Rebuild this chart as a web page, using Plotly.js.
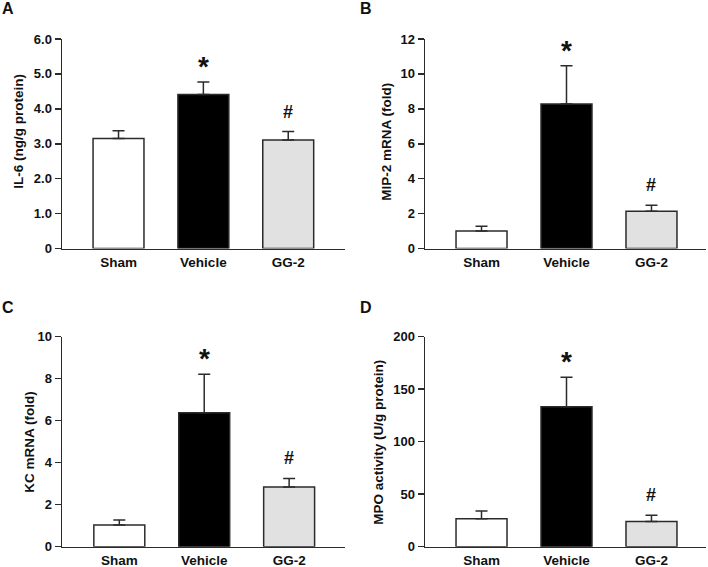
<!DOCTYPE html>
<html>
<head>
<meta charset="utf-8">
<script src="https://cdn.plot.ly/plotly-3.0.1.min.js"></script>
<style>html,body{margin:0;padding:0;background:#fff}#chart{width:708px;height:567px}</style>
</head>
<body>
<div id="chart"></div>
<script>
var groups = ["Sham", "Vehicle", "GG-2"];
var fills = ["#ffffff", "#000000", "#e1e1e1"];

var il6 = [3.15, 4.41, 3.11];
var il6Err = [0.22, 0.36, 0.24];
var mip2 = [1.0, 8.27, 2.14];
var mip2Err = [0.28, 2.2, 0.34];
var kc = [1.03, 6.38, 2.84];
var kcErr = [0.24, 1.83, 0.41];
var mpo = [26.7, 133.3, 24.1];
var mpoErr = [7.3, 28.0, 5.8];

var il6Ticks = [0, 1, 2, 3, 4, 5, 6];
var il6TickText = ["0", "1.0", "2.0", "3.0", "4.0", "5.0", "6.0"];
var mip2Ticks = [0, 2, 4, 6, 8, 10, 12];
var kcTicks = [0, 2, 4, 6, 8, 10];
var mpoTicks = [0, 50, 100, 150, 200];

var signs = ["", "*", "#"];

var FONT = "Liberation Sans, Arial, Helvetica, sans-serif";
var INK = "#2b2b2b";

var panels = [
  {vals: il6, err: il6Err, ticks: il6Ticks, text: il6TickText, ymax: 6, title: "IL-6 (ng/g protein)", letter: "A",
   xdom: [62/708, 345/708], ydom: [(567-248.5)/567, (567-39)/567], xr: [-0.666, 2.669], tx: 17.8, ty: 131, lx: 8, ly: 9},
  {vals: mip2, err: mip2Err, ticks: mip2Ticks, text: mip2Ticks.map(String), ymax: 12, title: "MIP-2 mRNA (fold)", letter: "B",
   xdom: [425/708, 705.7/708], ydom: [(567-248.5)/567, (567-39)/567], xr: [-0.665, 2.638], tx: 385.7, ty: 142, lx: 366, ly: 9},
  {vals: kc, err: kcErr, ticks: kcTicks, text: kcTicks.map(String), ymax: 10, title: "KC mRNA (fold)", letter: "C",
   xdom: [62/708, 345/708], ydom: [(567-546.7)/567, (567-336.7)/567], xr: [-0.675, 2.658], tx: 28.8, ty: 442, lx: 8, ly: 307},
  {vals: mpo, err: mpoErr, ticks: mpoTicks, text: mpoTicks.map(String), ymax: 200, title: "MPO activity (U/g protein)", letter: "D",
   xdom: [425/708, 705.7/708], ydom: [(567-546.7)/567, (567-336.7)/567], xr: [-0.665, 2.638], tx: 377.8, ty: 442, lx: 366, ly: 307}
];

var data = [];
var layout = {
  width: 708, height: 567,
  margin: {l: 0, r: 0, t: 0, b: 0},
  paper_bgcolor: "#ffffff", plot_bgcolor: "rgba(0,0,0,0)",
  showlegend: false,
  font: {family: FONT, color: "#111", size: 13, weight: "bold"},
  annotations: []
};

panels.forEach(function (p, i) {
  var n = i + 1;
  var xa = "x" + (n === 1 ? "" : n), ya = "y" + (n === 1 ? "" : n);
  data.push({
    type: "bar", x: groups, y: p.vals, xaxis: xa, yaxis: ya, width: 0.6,
    marker: {color: fills, line: {color: INK, width: 1.5}},
    error_y: {type: "data", symmetric: false, array: p.err, arrayminus: p.err.map(function () { return 0; }),
              color: INK, thickness: 1.5, width: 6},
    hoverinfo: "skip"
  });
  layout["xaxis" + (n === 1 ? "" : n)] = {
    domain: p.xdom, anchor: ya, type: "category", range: p.xr,
    showline: true, linecolor: INK, linewidth: 1.5, ticks: "outside", ticklen: 1, tickcolor: "rgba(0,0,0,0)",
    showgrid: false, zeroline: false, fixedrange: true,
    tickfont: {family: FONT, size: 13.5, color: "#111", weight: "bold"}
  };
  layout["yaxis" + (n === 1 ? "" : n)] = {
    domain: p.ydom, anchor: xa, range: [0, p.ymax],
    tickvals: p.ticks, ticktext: p.text,
    showline: true, linecolor: INK, linewidth: 1.5, ticks: "outside", ticklen: 6, tickwidth: 1.5, tickcolor: INK,
    showgrid: false, zeroline: false, fixedrange: true,
    tickfont: {family: FONT, size: 13, color: "#111", weight: "bold"}
  };
  layout.annotations.push({
    xref: "paper", yref: "paper", x: p.tx / 708, y: 1 - p.ty / 567,
    xanchor: "center", yanchor: "middle", textangle: -90, showarrow: false,
    text: p.title, font: {family: FONT, size: 13.5, color: "#111", weight: "bold"}
  });
  layout.annotations.push({
    xref: "paper", yref: "paper", x: p.lx / 708, y: 1 - p.ly / 567,
    xanchor: "center", yanchor: "middle", showarrow: false,
    text: p.letter, font: {family: FONT, size: 16, color: "#111", weight: "bold"}
  });
  for (var k = 1; k < 3; k++) {
    layout.annotations.push({
      xref: xa, yref: ya, x: groups[k], y: p.vals[k] + p.err[k],
      xanchor: "center", yanchor: "bottom", yshift: k === 1 ? -2 : 8, showarrow: false,
      text: signs[k], font: {family: FONT, size: k === 1 ? 28 : 18, color: "#111", weight: "bold"}
    });
  }
});

Plotly.newPlot("chart", data, layout, {displayModeBar: false, staticPlot: true});
</script>
</body>
</html>
